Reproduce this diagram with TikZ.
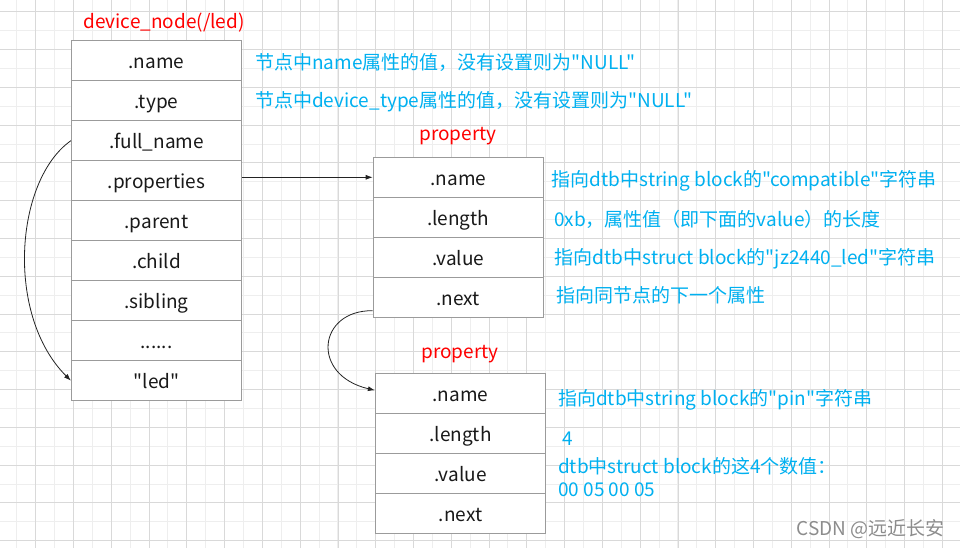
\documentclass[tikz,border=0pt]{standalone}
\usepackage{fontspec}
\setmainfont{Noto Sans CJK SC}[Ligatures=TeXOff]
\usetikzlibrary{arrows.meta}
\definecolor{notecol}{RGB}{0,176,240}
\definecolor{cellline}{RGB}{155,155,155}
\definecolor{gridmin}{RGB}{238,238,238}
\definecolor{gridmaj}{RGB}{217,217,217}
\definecolor{linkcol}{RGB}{35,35,35}
\newcommand{\moredots}{......}

\begin{document}
\begin{tikzpicture}[x=1pt,y=-1pt,>={Latex[length=7pt,width=5pt]},
    txt/.style={text height=18pt,text depth=2pt,font=\fontsize{19}{21}\selectfont},
    cell/.style={txt,draw=cellline,line width=1.2pt,fill=white,minimum width=170pt,minimum height=40pt,inner sep=0pt,text=black!90},
    title/.style={txt,text=red,inner sep=0pt},
    note/.style={txt,anchor=west,inner sep=0pt,text=notecol},
    link/.style={->,draw=linkcol,line width=0.8pt}]
      \useasboundingbox (0,0) rectangle (960,548);
      % background grid
      \foreach \i in {0,...,50} \draw[gridmin,line width=0.8pt] ({16.7+18.89*\i},0) -- ++(0,548);
      \foreach \i in {0,...,29} \draw[gridmin,line width=0.8pt] (0,{11.7+18.89*\i}) -- ++(960,0);
      \foreach \i in {0,...,25} \draw[gridmaj,line width=0.8pt] ({35.7+37.78*\i},0) -- ++(0,548);
      \foreach \i in {0,...,14} \draw[gridmaj,line width=0.8pt] (0,{11.7+37.78*\i}) -- ++(960,0);

      % device_node
      \node[title] (dntitle) at (164,21) {device\_node(/led)};
      \foreach \lbl [count=\i] in {.name,.type,.full\_name,.properties,.parent,.child,.sibling,\moredots,"led"}
        \node[cell] (dn\i) at (156.5,{60.7+40*(\i-1)}) {\lbl};

      % first property
      \node[title] (p1title) at (458,133) {property};
      \foreach \lbl [count=\i] in {.name,.length,.value,.next}
        \node[cell] (pa\i) at (458.3,{177.3+40*(\i-1)}) {\lbl};

      % second property
      \node[title] (p2title) at (460,350) {property};
      \foreach \lbl [count=\i] in {.name,.length,.value,.next}
        \node[cell] (pb\i) at (460.5,{393.7+40*(\i-1)}) {\lbl};

      % notes
      \node[note] (n1) at (255,61.7) {节点中name属性的值，没有设置则为"NULL"};
      \node[note] (n2) at (255,100) {节点中device\_type属性的值，没有设置则为"NULL"};
      \node[note] (n3) at (551.7,178) {指向dtb中string block的"compatible"字符串};
      \node[note] (n4) at (554,218) {0xb，属性值（即下面的value）的长度};
      \node[note] (n5) at (554.7,256) {指向dtb中struct block的"jz2440\_led"字符串};
      \node[note] (n6) at (556,294) {指向同节点的下一个属性};
      \node[note] (n7) at (558,397) {指向dtb中string block的"pin"字符串};
      \node[note] (n8) at (562.7,437.7) {4};
      \node[note] (n9) at (558,465.7) {dtb中struct block的这4个数值：};
      \node[note] (n10) at (558,488.3) {00 05 00 05};
      \node[txt,anchor=east,inner sep=0pt,text=black!45] (mark) at (945,527) {CSDN @远近长安};

      % pointers
      \draw[link] (dn4.east |- pa1.west) -- (pa1.west);
      \draw[link] (dn3.west) .. controls (15,180) and (5,315) .. (dn9.west);
      \draw[link] ([yshift=-13.4pt]pa4.west) .. controls (318,310) and (310,375) .. ([yshift=3.4pt]pb1.west);
\end{tikzpicture}
\end{document}
